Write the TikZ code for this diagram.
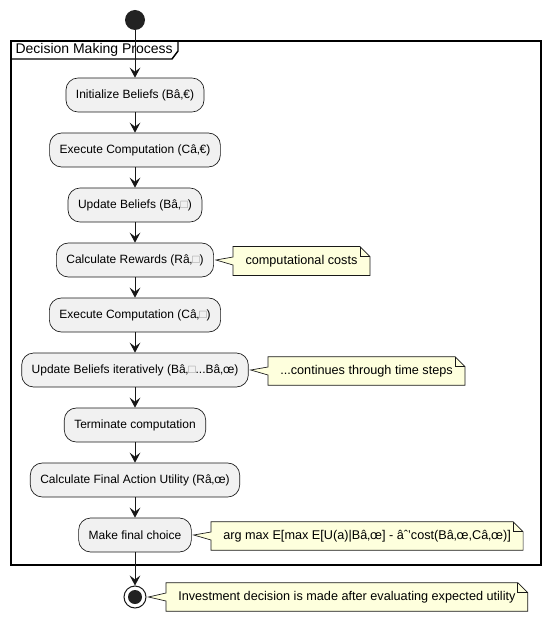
\documentclass[tikz,border=0pt]{standalone}
\usepackage{fontspec}
\setmainfont{Liberation Sans}
\usetikzlibrary{arrows.meta,calc,backgrounds}
\tikzset{every picture/.style={line width=0.75pt}}
\newcommand{\glyphbox}{{\color{gray!80}□}}
% note outline: #1 note node, #2 node it points to
\newcommand{\notebox}[2]{%
\begin{pgfonlayer}{background}
\draw [notefill] (#1.north west) -- ($(#1.north east)+(-10,0)$) -- ($(#1.north east)+(0,10)$) -- (#1.south east) -- (#1.south west) -- ($(#1.west)+(0,4)$) -- ($(#2.east)+(2,0)$) -- ($(#1.west)+(0,-4)$) -- cycle ;
\draw [notefill,fill=none] ($(#1.north east)+(-10,0)$) -- ($(#1.north east)+(-10,10)$) -- ($(#1.north east)+(0,10)$) ;
\end{pgfonlayer}}

\begin{document}
\begin{tikzpicture}[x=0.75pt,y=0.75pt,yscale=-1,xscale=1,
  activity/.style={draw={rgb, 255:red, 24; green, 24; blue, 24 }, line width=0.5pt, fill={rgb, 255:red, 241; green, 241; blue, 241 }, rounded corners=9pt, minimum height=25.5pt, inner xsep=7.5pt, font=\fontsize{9}{11}\selectfont},
  notetext/.style={inner xsep=9pt, minimum height=21pt, anchor=west, font=\fontsize{9.5}{11}\selectfont},
  notefill/.style={draw={rgb, 255:red, 24; green, 24; blue, 24 }, line width=0.5pt, fill={rgb, 255:red, 254; green, 255; blue, 221 }},
  flow/.style={color={rgb, 255:red, 24; green, 24; blue, 24 }, -{Stealth[length=7.5pt,width=8pt,inset=3pt]}}]
\useasboundingbox (0,0) rectangle (547,620);

%Shape: Frame
\draw [line width=1.1pt] (11,41) rectangle (541,565) ;
\draw [line width=1.1pt] (11,59) -- (172,59) -- (178,51) -- (178,41) ;
% Text Node
\node (title) at (14,50) [anchor=west, inner sep=0.75pt, font=\fontsize{10.5}{12}\selectfont] {Decision Making Process};

%Shape: Circle
\node (start) at (135,20) [circle, fill={rgb, 255:red, 34; green, 34; blue, 34 }, minimum size=15pt, inner sep=0pt] {};

%Shape: Rounded Rect
\node (init) at (135,95) [activity] {Initialize Beliefs (Bâ‚€)};
\node (exec0) at (135,150) [activity] {Execute Computation (Câ‚€)};
\node (upd1) at (135,205) [activity] {Update Beliefs (Bâ‚\glyphbox)};
\node (rew) at (135,260) [activity] {Calculate Rewards (Râ‚\glyphbox)};
\node (exec1) at (135,315) [activity] {Execute Computation (Câ‚\glyphbox)};
\node (iter) at (135,370) [activity] {Update Beliefs iteratively (Bâ‚\glyphbox...Bâ‚œ)};
\node (term) at (135,425) [activity] {Terminate computation};
\node (final) at (135,480) [activity] {Calculate Final Action Utility (Râ‚œ)};
\node (choice) at (135,535) [activity] {Make final choice};

%Shape: End Circle
\node (stop) at (135,597) [circle, draw={rgb, 255:red, 24; green, 24; blue, 24 }, fill=white, line width=0.75pt, minimum size=16.5pt, inner sep=0pt] {};
\node (stopdot) at (stop) [circle, fill={rgb, 255:red, 34; green, 34; blue, 34 }, minimum size=10.5pt, inner sep=0pt] {};

%Straight Lines
\draw [flow] (start) -- (init) ;
\draw [flow] (init) -- (exec0) ;
\draw [flow] (exec0) -- (upd1) ;
\draw [flow] (upd1) -- (rew) ;
\draw [flow] (rew) -- (exec1) ;
\draw [flow] (exec1) -- (iter) ;
\draw [flow] (iter) -- (term) ;
\draw [flow] (term) -- (final) ;
\draw [flow] (final) -- (choice) ;
\draw [flow] (choice) -- (stop) ;

% Note
\node (costs) at (233,261) [notetext] {computational costs};
\notebox{costs}{rew}
\node (steps) at (268,371) [notetext] {...continues through time steps};
\notebox{steps}{iter}
\node (argmax) at (211,536) [notetext] {arg max E[max E[U(a)|Bâ‚œ] - âˆ’cost(Bâ‚œ,Câ‚œ)]};
\notebox{argmax}{choice}
\node (invest) at (166,597) [notetext] {Investment decision is made after evaluating expected utility};
\notebox{invest}{stop}

\end{tikzpicture}
\end{document}
